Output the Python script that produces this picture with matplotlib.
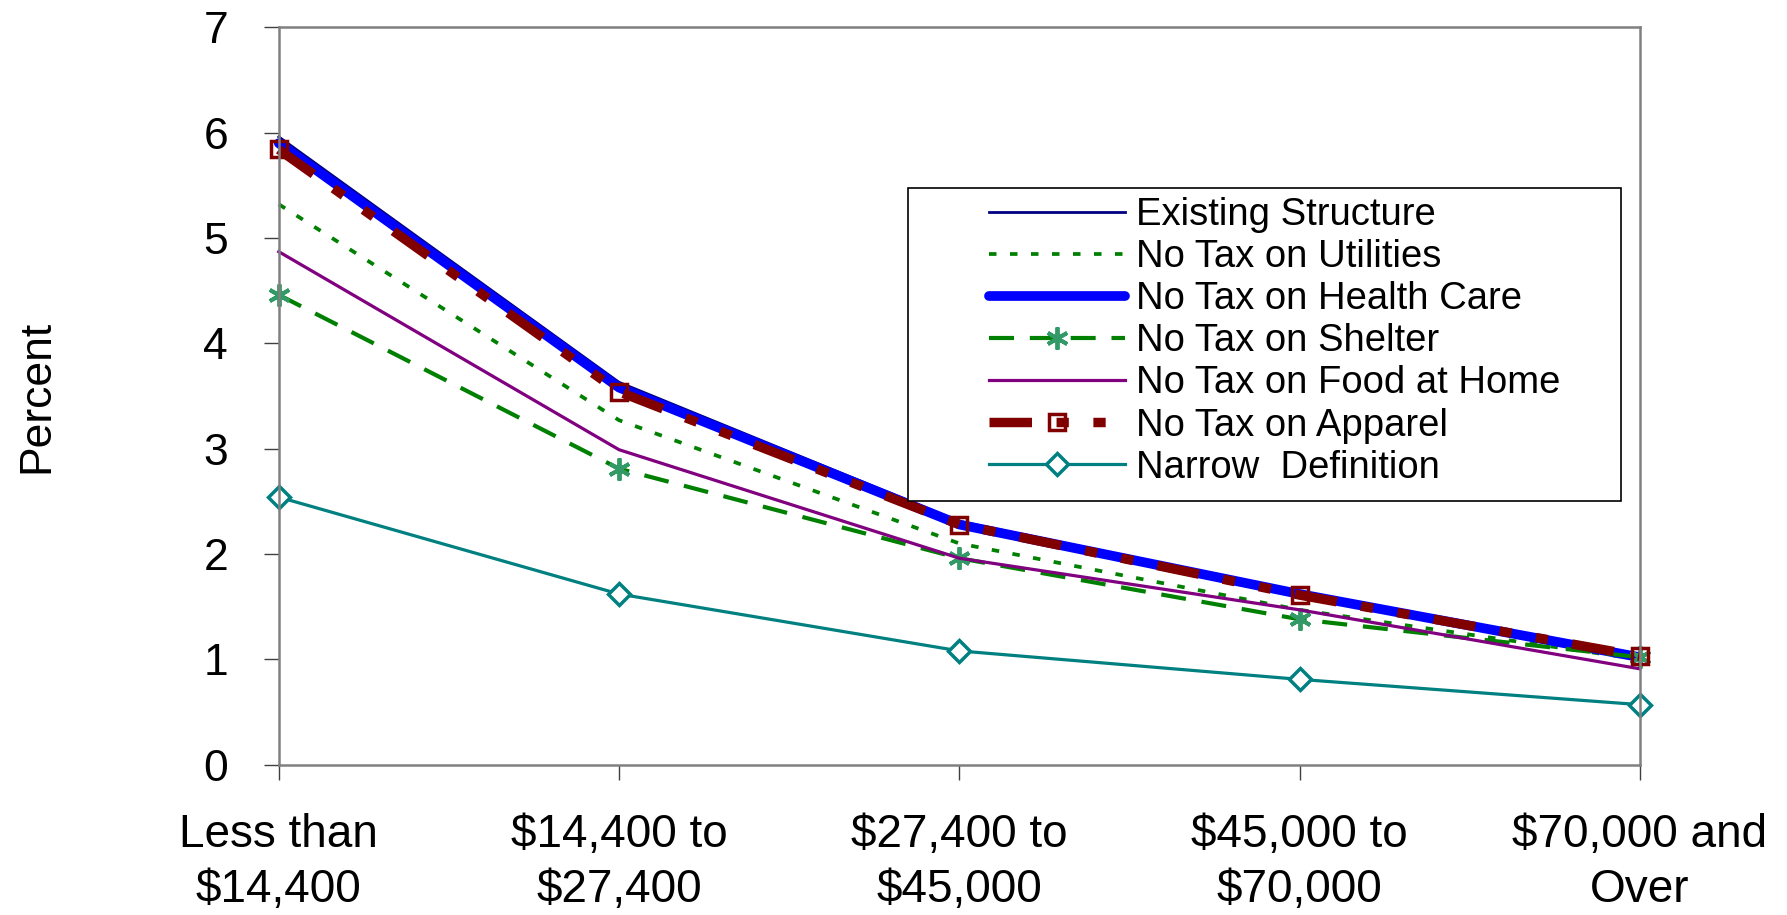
import matplotlib
matplotlib.use('Agg')
import matplotlib.pyplot as plt
from matplotlib.patches import Rectangle

categories = ['Less than\n\\$14,400', '\\$14,400 to\n\\$27,400', '\\$27,400 to\n\\$45,000',
              '\\$45,000 to\n\\$70,000', '\\$70,000 and\nOver']

existing = [5.96, 3.63, 2.31, 1.64, 1.04]
utilities = [5.32, 3.27, 2.10, 1.47, 1.00]
health = [5.90, 3.58, 2.28, 1.62, 1.02]
shelter = [4.46, 2.81, 1.96, 1.38, 1.02]
food = [4.87, 2.99, 1.96, 1.47, 0.91]
apparel = [5.84, 3.54, 2.28, 1.61, 1.03]
narrow = [2.54, 1.62, 1.08, 0.81, 0.57]

plt.rcParams['font.family'] = ['Liberation Sans', 'DejaVu Sans']

fig = plt.figure(figsize=(17.87, 9.15), dpi=100)
ax = fig.add_axes([0.156, 1 - 764.7 / 915, 0.9177 - 0.156, (764.7 - 27.3) / 915])

x = list(range(len(categories)))

ax.plot(x, existing, color='#000080', lw=2, label='Existing Structure', clip_on=False)
ax.plot(x, utilities, color='#008000', lw=2.7, dashes=(2, 3.6), label='No Tax on Utilities', clip_on=False)
ax.plot(x, health, color='#0000FF', lw=7, solid_capstyle='round', label='No Tax on Health Care', clip_on=False)
ax.plot(x, shelter, color='#008000', lw=3, dashes=(6, 3.8), marker=(6, 2, 0), ms=16,
        mec='#339966', mew=2.8, label='No Tax on Shelter', clip_on=False)
ax.plot(x, food, color='#800080', lw=2.3, label='No Tax on Food at Home', clip_on=False)
ax.plot(x, apparel, color='#800000', lw=6.8, dashes=(4.5, 2.6, 1.3, 2.6, 1.3, 2.6), marker='s', ms=11,
        mfc='none', mec='#800000', mew=2.5, label='No Tax on Apparel', clip_on=False)
ax.plot(x, narrow, color='#008080', lw=2.3, marker='D', ms=11, mfc='white', mec='#008080', mew=2.5,
        label='Narrow  Definition', clip_on=False)

ax.set_xlim(0, 4)
ax.set_ylim(0, 7)
ax.set_yticks(range(8))
ax.set_xticks(x)
ax.set_xticklabels(categories, fontsize=33, linespacing=1.33)
ax.tick_params(axis='y', labelsize=32, length=10.5, width=1, color='#404040', pad=26)
ax.tick_params(axis='x', length=10.5, width=1, color='#404040', pad=24)
for s in ax.spines.values():
    s.set_color('#808080')
    s.set_linewidth(1.8)
ax.set_ylabel('Percent', fontsize=32)
ax.yaxis.set_label_coords(-0.163, 0.5)

# legend box
rect = Rectangle((908 / 1787, 1 - 501 / 915), 713 / 1787, 313 / 915, transform=fig.transFigure,
                 facecolor='white', edgecolor='black', lw=1.2, zorder=4, clip_on=False)
ax.add_artist(rect)
leg = ax.legend(loc='upper left', bbox_to_anchor=(989 / 1787, 1 - 197 / 915), bbox_transform=fig.transFigure,
                frameon=False, borderpad=0, borderaxespad=0, labelspacing=0.16, handlelength=3.55,
                handletextpad=0.3, prop={'size': 27.5})
leg.set_zorder(5)

fig.savefig('out.png', dpi=100)
